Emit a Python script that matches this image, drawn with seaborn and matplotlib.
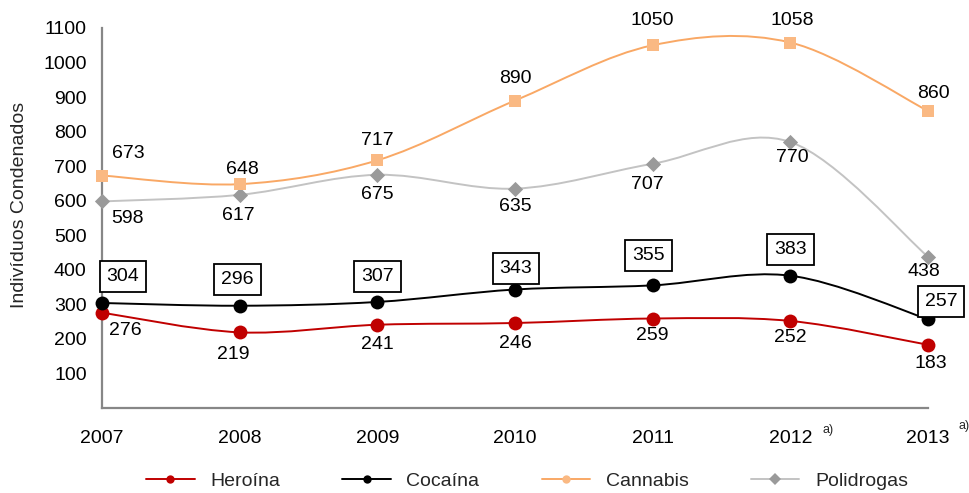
import numpy as np
import pandas as pd
import matplotlib
matplotlib.use("Agg")
import matplotlib.pyplot as plt
from matplotlib.path import Path
from matplotlib.patches import PathPatch
from matplotlib.lines import Line2D
import seaborn as sns

# ---- data ----
years = ["2007", "2008", "2009", "2010", "2011", "2012", "2013"]
heroina = [276, 219, 241, 246, 259, 252, 183]
cocaina = [304, 296, 307, 343, 355, 383, 257]
cannabis = [673, 648, 717, 890, 1050, 1058, 860]
polidrogas = [598, 617, 675, 635, 707, 770, 438]
series_names = ["Heroína", "Cocaína", "Cannabis", "Polidrogas"]
y_ticks = [0, 100, 200, 300, 400, 500, 600, 700, 800, 900, 1000, 1100]
y_tick_labels = ["", "100", "200", "300", "400", "500", "600", "700",
                 "800", "900", "1000", "1100"]
footnote_years = ["2012", "2013"]
y_title = "Indivíduos Condenados"

# ---- style ----
sns.set_theme(style="white")
plt.rcParams["font.family"] = ["Liberation Sans", "DejaVu Sans"]
FS = 14
AXIS_GREY = "#878787"

styles = {
    "Heroína":    dict(line="#C00000", mark="#C00000", marker="o", s=100, lw=1.4),
    "Cocaína":    dict(line="#000000", mark="#000000", marker="o", s=100, lw=1.4),
    "Cannabis":   dict(line="#F9A865", mark="#FAB983", marker="s", s=85, lw=1.4),
    "Polidrogas": dict(line="#C3C3C3", mark="#9A9A9A", marker="D", s=60, lw=1.4),
}

# label offsets in pixels (dx, dy) relative to each point
label_offsets = {
    "Heroína":    [(23, -18), (-6, -22), (0, -20), (0, -20), (0, -17), (0, -17), (3, -19)],
    "Cocaína":    [(21, 26), (-2, 26), (0, 25), (1, 21), (-4, 30), (0, 26), (13, 18)],
    "Cannabis":   [(26, 22), (3, 15), (0, 20), (0, 22), (0, 25), (2, 22), (5, 17)],
    "Polidrogas": [(25, -17), (-1, -21), (0, -20), (0, -18), (-5, -21), (2, -15), (-4, -15)],
}
boxed = {"Cocaína"}

values = dict(zip(series_names, [heroina, cocaina, cannabis, polidrogas]))
df = pd.DataFrame(
    [(name, i, v) for name in series_names for i, v in enumerate(values[name])],
    columns=["serie", "pos", "valor"],
)


def smooth_path(xs, ys):
    """Cubic Bezier path through the points (Catmull-Rom style tangents)."""
    pts = np.column_stack([xs, ys]).astype(float)
    n = len(pts)
    verts = [pts[0]]
    codes = [Path.MOVETO]
    for i in range(n - 1):
        p0 = pts[i - 1] if i > 0 else pts[i]
        p1 = pts[i]
        p2 = pts[i + 1]
        p3 = pts[i + 2] if i + 2 < n else pts[i + 1]
        verts += [p1 + (p2 - p0) / 6.0, p2 - (p3 - p1) / 6.0, p2]
        codes += [Path.CURVE4] * 3
    return Path(verts, codes)


fig = plt.figure(figsize=(9.7, 4.93), dpi=100)
ax = fig.add_axes([102 / 970, 85 / 493, 826 / 970, 380 / 493])

order = ["Polidrogas", "Cannabis", "Heroína", "Cocaína"]
for z, name in enumerate(order):
    st = styles[name]
    sub = df[df["serie"] == name]
    ax.add_patch(PathPatch(smooth_path(sub["pos"], sub["valor"]),
                           facecolor="none", edgecolor=st["line"],
                           lw=st["lw"], zorder=2 + z, clip_on=False))
    sns.scatterplot(data=sub, x="pos", y="valor", marker=st["marker"],
                    color=st["mark"], s=st["s"], linewidth=0, ax=ax,
                    legend=False, zorder=6 + z, clip_on=False)

for name in series_names:
    sub = df[df["serie"] == name]
    for (i, v), (dx, dy) in zip(zip(sub["pos"], sub["valor"]), label_offsets[name]):
        kw = {}
        if name in boxed:
            kw["bbox"] = dict(boxstyle="square,pad=0.36", fc="white",
                              ec="black", lw=1.3)
        ax.annotate(str(v), (i, v), xytext=(dx, dy), textcoords="offset pixels",
                    ha="center", va="center", fontsize=FS, color="black",
                    zorder=12, annotation_clip=False, **kw)

ax.set_xlim(0, len(years) - 1)
ax.set_ylim(0, 1100)
ax.set_xticks(range(len(years)))
ax.set_xticklabels(years)
ax.set_yticks(y_ticks)
ax.set_yticklabels(y_tick_labels)
ax.set_xlabel("")
ax.set_ylabel("")

for side in ["top", "right"]:
    ax.spines[side].set_visible(False)
for side in ["left", "bottom"]:
    ax.spines[side].set_color(AXIS_GREY)
    ax.spines[side].set_linewidth(1.6)
ax.tick_params(axis="both", direction="inout", length=8, width=1.6,
               color=AXIS_GREY, labelsize=FS, labelcolor="black")
ax.tick_params(axis="x", pad=12)
ax.tick_params(axis="y", pad=7)
ax.grid(False)
ax.set_facecolor("white")

# footnote marks next to the year labels
for yr, (dx, dy) in zip(footnote_years, [(38, -22), (36, -18)]):
    ax.annotate("a)", (years.index(yr), 0), xycoords="data",
                xytext=(dx, dy), textcoords="offset pixels",
                ha="center", va="center", fontsize=9, annotation_clip=False)

fig.text(20 / 970, 1 - 205 / 493, y_title, rotation=90, ha="center",
         va="center", fontsize=FS)

handles = [
    Line2D([], [], color=styles[n]["line"], lw=1.4,
           marker="D" if n == "Polidrogas" else "o",
           markersize=6, markerfacecolor=styles[n]["mark"],
           markeredgewidth=0)
    for n in series_names
]
fig.legend(handles, series_names, loc="center", ncol=4, frameon=False,
           bbox_to_anchor=(527 / 970, 1 - 481 / 493), fontsize=FS,
           handlelength=2.5, columnspacing=3.2, handletextpad=0.8)

fig.savefig("out.png", dpi=100, facecolor="white")
